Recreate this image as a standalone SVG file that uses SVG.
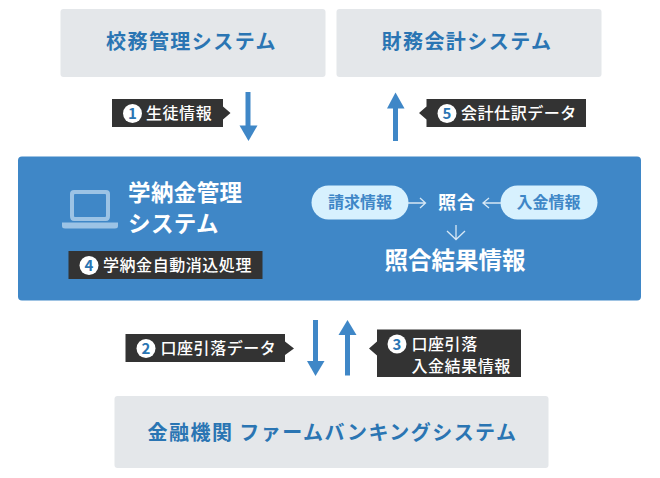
<svg xmlns="http://www.w3.org/2000/svg" width="660" height="478" viewBox="0 0 660 478">
<style>
text{font-family:"Noto Sans CJK JP","Noto Sans",sans-serif}
.sys{fill:#e4e7ea}
.st{fill:#2a75b3;font-size:20px;font-weight:700;text-anchor:middle;letter-spacing:1.45px}
.lb{fill:#333}
.lt{fill:#fff;font-size:16px;font-weight:500;letter-spacing:.55px}
.nc{fill:#fff}
.nt{fill:#2a75b3;font-size:15px;font-weight:700;text-anchor:middle}
.wt{fill:#fff;font-weight:700}
.pill{fill:#d7f1fe}
.pt{fill:#3f87c7;font-size:16px;font-weight:700;text-anchor:middle}
.ar{stroke:#3f87c7;stroke-width:5;fill:none}
.ah{fill:#3f87c7}
.thin{stroke:#d7e8f5;stroke-width:1.3;fill:none}
</style>
<g id="connectors">
<path class="ar" d="M248 92V128"/><path class="ah" d="M239.500 125.500H257.500L248.500 141Z"/>
<path class="ar" d="M395.500 141V105"/><path class="ah" d="M387 108.500H404.500L395.500 92.500Z"/>
<path class="ar" d="M315.500 320V362"/><path class="ah" d="M307 361H324.500L315.500 376Z"/>
<path class="ar" d="M347.500 375.500V333"/><path class="ah" d="M338.500 335H356.500L347.500 320Z"/>
</g>
<g id="node-komu"><rect class="sys" x="60.500" y="9" width="265" height="68" rx="3"/><text class="st" x="191.500" y="49">校務管理システム</text></g>
<g id="node-zaimu"><rect class="sys" x="336.500" y="9" width="265" height="68" rx="3"/><text class="st" x="467" y="49">財務会計システム</text></g>
<g id="node-bank"><rect class="sys" x="114.500" y="396" width="434" height="72" rx="3"/><text class="st" x="332.500" y="440">金融機関 ファームバンキングシステム</text></g>
<g id="node-main">
<rect x="18" y="156.500" width="623" height="144" rx="4" fill="#3f87c7"/>
<g fill="#9cc3e5">
<path fill-rule="evenodd" d="M74 190H106Q110 190 110 194V216Q110 221 106 221H74Q70 221 70 216V194Q70 190 74 190ZM75 194Q74 194 74 195V216Q74 217 75 217H105Q106 217 106 216V195Q106 194 105 194Z"/>
<path d="M62 222.500H118V226Q118 228.500 115 228.500H65Q62 228.500 62 226Z"/>
</g>
<text class="wt" x="128" y="201" font-size="22.500" letter-spacing=".4">学納金管理</text>
<text class="wt" x="128" y="232" font-size="22.500" letter-spacing=".4">システム</text>
<text class="wt" x="384.500" y="269" font-size="23.500">照合結果情報</text>
<text class="wt" x="438" y="209" font-size="18" font-weight="500" letter-spacing="1">照合</text>
<rect class="pill" x="311.500" y="185.500" width="97" height="34" rx="17"/><text class="pt" x="360" y="208">請求情報</text>
<rect class="pill" x="500.500" y="185.500" width="97" height="34" rx="17"/><text class="pt" x="548.500" y="208">入金情報</text>
<path class="thin" d="M408 203H425M420 198L425.500 203L420 208"/>
<path class="thin" d="M501 203H483M489 198L483 203L489 208"/>
<path class="thin" d="M456 225V239.500M447 231L456 239.500L465 231"/>
</g>
<g id="label-1"><path class="lb" d="M112 99H223V106.500L230.500 113L223 119.500V127H112Z"/><circle class="nc" cx="132.500" cy="113.500" r="9.500"/><text class="nt" x="132.500" y="119">1</text><text class="lt" x="146" y="119">生徒情報</text></g>
<g id="label-5"><path class="lb" d="M426.500 99H586V127H426.500V119.500L419 113L426.500 106.500Z"/><circle class="nc" cx="447" cy="113.500" r="9.500"/><text class="nt" x="447" y="119">5</text><text class="lt" x="461" y="119">会計仕訳データ</text></g>
<g id="label-4"><rect class="lb" x="68.500" y="251" width="194" height="28"/><circle class="nc" cx="89" cy="265.500" r="9.500"/><text class="nt" x="89" y="271">4</text><text class="lt" x="103" y="271">学納金自動消込処理</text></g>
<g id="label-2"><path class="lb" d="M125.500 334H285V341.500L294 348.500L285 355V362H125.500Z"/><circle class="nc" cx="146" cy="348.500" r="9.500"/><text class="nt" x="146" y="354">2</text><text class="lt" x="160.500" y="354">口座引落データ</text></g>
<g id="label-3"><path class="lb" d="M377 329.500H521V377H377V355.500L369 348.500L377 341.500Z"/><circle class="nc" cx="397" cy="344" r="9.500"/><text class="nt" x="397" y="349.500">3</text><text class="lt" x="411.500" y="350">口座引落</text><text class="lt" x="411.500" y="372">入金結果情報</text></g>
</svg>
